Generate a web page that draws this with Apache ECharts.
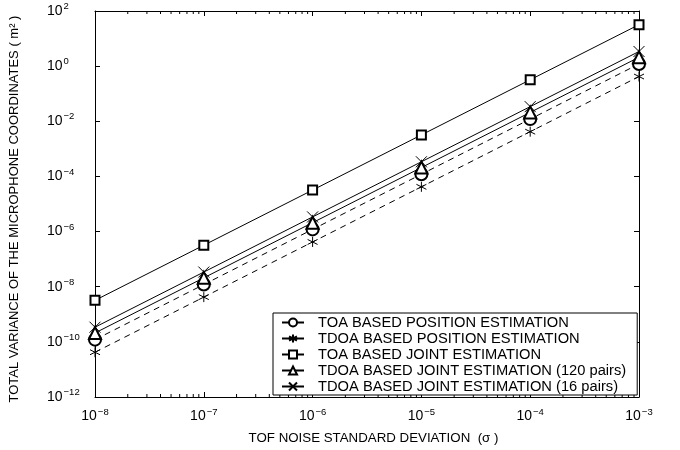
<!DOCTYPE html>
<html><head><meta charset="utf-8">
<script src="https://cdn.jsdelivr.net/npm/echarts@6/dist/echarts.min.js"></script>
<style>html,body{margin:0;padding:0;background:#fff}#c{width:680px;height:450px}</style>
</head><body><div id="c"></div>
<script>
const sigma = [1e-8, 1e-7, 1e-6, 1e-5, 1e-4, 1e-3];
const toaPos = [1.2e-10, 1.2e-8, 1.2e-6, 1.2e-4, 1.2e-2, 1.2];
const tdoaPos = [4.2e-11, 4.2e-9, 4.2e-7, 4.2e-5, 4.2e-3, 0.42];
const toaJoint = [3.2e-9, 3.2e-7, 3.2e-5, 3.2e-3, 3.2e-1, 32];
const tdoaJoint120 = [2.1e-10, 2.1e-8, 2.1e-6, 2.1e-4, 2.1e-2, 2.1];
const tdoaJoint16 = [3.4e-10, 3.4e-8, 3.4e-6, 3.4e-4, 3.4e-2, 3.4];
const names = ['TOA BASED POSITION ESTIMATION','TDOA BASED POSITION ESTIMATION','TOA BASED JOINT ESTIMATION','TDOA BASED JOINT ESTIMATION (120 pairs)','TDOA BASED JOINT ESTIMATION (16 pairs)'];
const decades = [1e-8, 1e-7, 1e-6, 1e-5, 1e-4];
const minorMult = [2, 3, 4, 5, 6, 7, 8, 9];

const FONT = 'Liberation Sans, Arial, sans-serif';
const STAR = 'path://M5,0L5,10M0.7,2.5L9.3,7.5M0.7,7.5L9.3,2.5';
const CROSS = 'path://M0,0L10,10M0,10L10,0';
function pairs(ys){ return sigma.map((x,i)=>[x, ys[i]]); }
function fmt(v){ const e = Math.round(Math.log10(v)); return '{b|10}{e|' + (e<0 ? '\u2212'+(-e) : e) + '}'; }
const rich = { b:{fontSize:14, fontFamily:FONT, color:'#000'}, e:{fontSize:9.5, fontFamily:FONT, color:'#000', verticalAlign:'bottom', padding:[0,0,9,1]} };
function ser(name, data, symbol, dashed, size){
  return { name, type:'line', data:pairs(data), symbol, symbolSize:size, showSymbol:true,
    lineStyle:{color:'#000', width:1, type: dashed ? [6,5] : 'solid'},
    itemStyle:{color:'#000', borderColor:'#000', borderWidth:1},
    emphasis:{disabled:true}, animation:false, z:3 };
}
const minorVals = [];
decades.forEach(d => minorMult.forEach(m => minorVals.push([d*m])));
const axisLineStyle = {lineStyle:{color:'#000', width:1}};
const tick = {inside:true, length:5, interval:0, lineStyle:{color:'#000'}};
const chart = echarts.init(document.getElementById('c'));
chart.setOption({
  animation:false,
  grid:{left:91, right:41, top:11, bottom:53},
  xAxis:[{type:'log', logBase:10, min:1e-8, max:1e-3, interval:1, position:'bottom',
    axisLine:axisLineStyle, axisTick:tick,
    splitLine:{show:false}, axisLabel:{formatter:fmt, rich, margin:10, interval:0},
    name:'TOF NOISE STANDARD DEVIATION  (\u03c3 )', nameLocation:'middle', nameGap:35,
    nameTextStyle:{fontSize:13.3, fontFamily:FONT, color:'#000', padding:[0,0,0,13]}},
    {type:'log', logBase:10, min:1e-8, max:1e-3, interval:1, position:'top',
    axisLine:axisLineStyle, axisTick:tick,
    splitLine:{show:false}, axisLabel:{show:false}}],
  yAxis:[{type:'log', logBase:10, min:1e-12, max:1e2, interval:2, position:'left',
    axisLine:axisLineStyle, axisTick:tick,
    splitLine:{show:false}, axisLabel:{formatter:fmt, rich, margin:48, interval:0, align:'left'},
    name:'TOTAL VARIANCE OF THE MICROPHONE COORDINATES ( m\u00b2 )', nameLocation:'middle', nameGap:74, nameRotate:90,
    nameTextStyle:{fontSize:13, fontFamily:FONT, color:'#000', padding:[0,10,0,0]}},
    {type:'log', logBase:10, min:1e-12, max:1e2, interval:2, position:'right',
    axisLine:axisLineStyle, axisTick:tick,
    splitLine:{show:false}, axisLabel:{show:false}}],
  legend:{orient:'vertical', left:273, top:313, itemGap:1, itemWidth:22, itemHeight:10,
    backgroundColor:'#fff', borderColor:'#000', borderWidth:1, padding:[2,11,1,8],
    textStyle:{fontSize:14.7, lineHeight:14.5, fontFamily:FONT, color:'#000', padding:[0,0,0,9]},
    lineStyle:{type:'solid'}, data:names, selectedMode:false},
  series:[
    ser(names[0], toaPos, 'emptyCircle', true, 12),
    ser(names[1], tdoaPos, STAR, true, 10),
    ser(names[2], toaJoint, 'emptyRect', false, 9),
    ser(names[3], tdoaJoint120, 'emptyTriangle', false, 12),
    ser(names[4], tdoaJoint16, CROSS, false, 11),
    { type:'custom', data:minorVals, silent:true, z:2, animation:false,
      renderItem:function(params, api){
        const v = api.value(0);
        const b = api.coord([v, 1e-12]);
        const t = api.coord([v, 1e2]);
        return { type:'group', children:[
          { type:'line', shape:{x1:b[0], y1:b[1], x2:b[0], y2:b[1]-3}, style:{stroke:'#000', lineWidth:1} },
          { type:'line', shape:{x1:t[0], y1:t[1], x2:t[0], y2:t[1]+3}, style:{stroke:'#000', lineWidth:1} }
        ]};
      } }
  ]
});
</script></body></html>
